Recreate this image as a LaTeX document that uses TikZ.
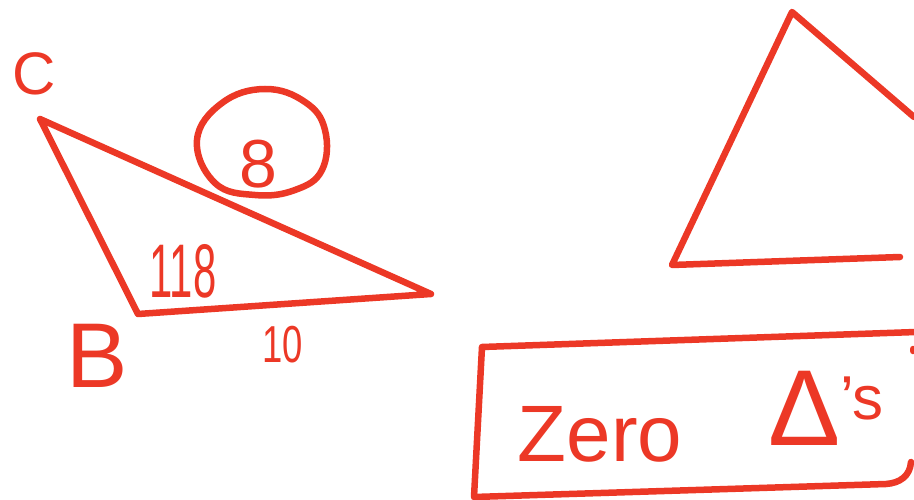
\documentclass[tikz,border=0pt]{standalone}
\usepackage{fontspec}
\setmainfont{Liberation Sans}
\definecolor{ink}{RGB}{236,56,38}
\begin{document}
\begin{tikzpicture}[x=1pt,y=-1pt,
  pen/.style={draw=ink,line width=6.5pt,line cap=round,line join=round},
  hand/.style={text=ink,inner sep=0pt,anchor=base}]
\useasboundingbox (0,0) rectangle (914,500);
% left triangle
\coordinate (Cv) at (40,119);
\coordinate (Bv) at (138,314);
\coordinate (Av) at (431,294);
\draw[pen] (Cv) -- (Bv) -- (Av) -- cycle;
% circle around 8
\draw[pen] plot[smooth cycle,tension=0.7] coordinates {(197,140) (222,103) (265,89) (305,102) (325,130) (322,170) (295,190) (255,195) (215,183)};
% labels
\node[hand,font=\fontsize{60}{60}\selectfont] (lC) at (34,95) {C};
\node[hand,font=\fontsize{92}{92}\selectfont] (lB) at (97,387) {B};
\node[hand,font=\fontsize{76}{76}\selectfont] (l118) at (183,297) {\scalebox{0.55}[1]{118}};
\node[hand,font=\fontsize{52}{52}\selectfont] (l10) at (283,362) {\scalebox{0.7}[1]{10}};
\node[hand,font=\fontsize{68}{68}\selectfont] (l8) at (258,188) {8};
% right triangle
\coordinate (Tt) at (792,12);
\coordinate (Tr) at (914,117);
\coordinate (Tl) at (672,265);
\coordinate (Te) at (900,257);
\draw[pen] (Tr) -- (Tt) -- (Tl) -- (Te);
% box
\coordinate (b1) at (482,347);
\coordinate (b2) at (916,332);
\coordinate (b3) at (474,497);
\coordinate (b4) at (886,484);
\coordinate (b5) at (911,462);
\draw[pen] (b2) -- (b1) -- (b3) -- (b4) .. controls (900,483) and (910,476) .. (b5);
\draw[pen] (913,349) -- (913,351);
\node[hand,font=\fontsize{80}{80}\selectfont] (zero) at (600,461) {Zero};
\node[hand] (tri) at (826,445) {\fontsize{108}{108}\selectfont Δ\fontsize{62}{62}\selectfont\raisebox{26pt}{'s}};
\end{tikzpicture}
\end{document}
